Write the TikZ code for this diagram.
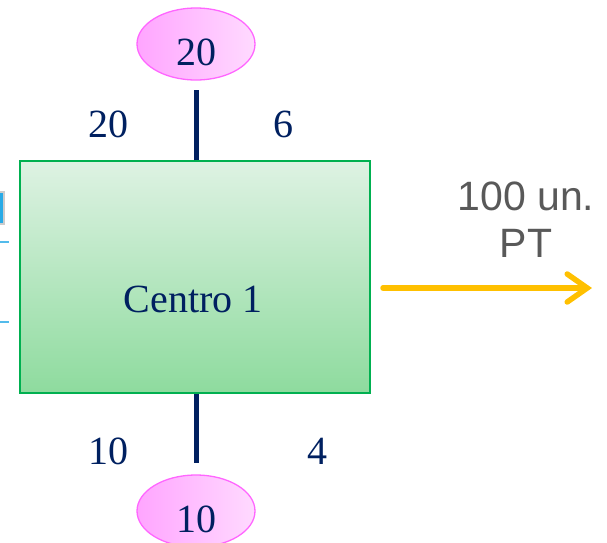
\documentclass[tikz,border=0pt]{standalone}
\usepackage{fontspec}
\setmainfont{Liberation Serif}
\newfontfamily\arialfont{Liberation Sans}
\usepackage{tikz}
\usetikzlibrary{shapes,arrows.meta,positioning}
\definecolor{centronavy}{RGB}{0,32,96}
\definecolor{blockgreen}{RGB}{0,176,80}
\definecolor{greentop}{RGB}{222,242,227}
\definecolor{greenbot}{RGB}{142,219,158}
\definecolor{costpink}{RGB}{255,102,255}
\definecolor{pinkleft}{RGB}{255,165,255}
\definecolor{pinkright}{RGB}{255,218,255}
\definecolor{flowgold}{RGB}{255,192,0}
\definecolor{textgray}{RGB}{89,89,89}
\definecolor{sideblue}{RGB}{40,170,230}

\begin{document}
\begin{tikzpicture}[x=1pt,y=-1pt,
  num/.style={font=\fontsize{40}{44}\selectfont, text=centronavy, inner sep=0pt},
  costo/.style={draw=costpink, line width=1.3pt, ellipse, left color=pinkleft, right color=pinkright, minimum width=118pt, minimum height=72pt, inner sep=0pt},
  link/.style={draw=centronavy, line width=5pt}]
\clip (0,0) rectangle (607,542);
\useasboundingbox (0,0) rectangle (607,542);

% Left edge pieces
\fill[gray!40] (0,191) rectangle (5,225);
\fill[sideblue] (0,193) rectangle (3,223);
\draw[sideblue!80, line width=1.5pt] (0,242) -- (9,242);
\draw[sideblue!80, line width=1.5pt] (0,322) -- (9,322);

% Central block
\node[draw=blockgreen, line width=1.5pt, top color=greentop, bottom color=greenbot, minimum width=350pt, minimum height=232pt, inner sep=0pt] (centro) at (195,277) {};
\node[num] (centrotxt) at (193,299) {Centro 1};

% Cost ellipses
\node[costo] (sup) at (196,44) {};
\node[num] at (196,52) {20};
\node[costo] (inf) at (196,511) {};
\node[num] at (196,519) {10};

% Vertical links
\draw[link] (centro.north -| sup) -- (sup.south |- 0,90);
\draw[link] (centro.south -| inf) -- (inf.north |- 0,463);

% Numbers beside the links
\node[num] (a) at (108,124) {20};
\node[num] (b) at (283,124) {6};
\node[num] (c) at (108,451) {10};
\node[num] (d) at (317,451) {4};

% Output
\coordinate (salida) at (592,288);
\draw[flowgold, line width=5.5pt, line cap=round, -{Straight Barb[length=20pt, width=28pt, line cap=round]}] (383,288) -- (salida);
\node[font=\arialfont\fontsize{41}{47}\selectfont, text=textgray, align=center, inner sep=0pt] (pt) at (526,220) {100 un.\\PT};
\end{tikzpicture}
\end{document}
